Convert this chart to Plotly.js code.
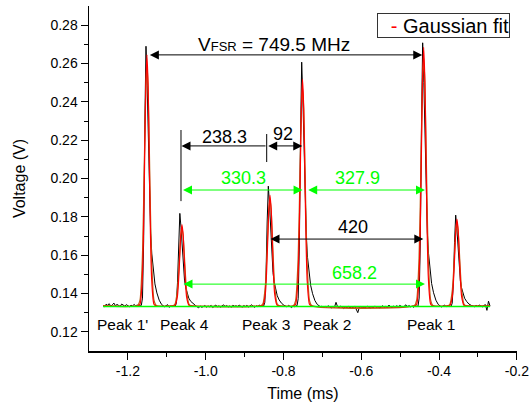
<!DOCTYPE html>
<html>
<head>
<meta charset="utf-8">
<script src="https://cdn.plot.ly/plotly-3.0.1.min.js"></script>
<style>
  html, body { margin: 0; padding: 0; background: #fff; }
  #chart { width: 529px; height: 408px; }
</style>
</head>
<body>
<div id="chart"></div>
<script>
// ---- Measured signal (black) ----
const timeMs = [
  // baseline before Peak 1'
  -1.264, -1.260, -1.256, -1.252, -1.248, -1.244, -1.240, -1.236, -1.232, -1.228,
  -1.224, -1.220, -1.216, -1.212, -1.208, -1.204, -1.200, -1.196, -1.192, -1.188,
  -1.184, -1.180, -1.176, -1.172, -1.168,
  // Peak 1'
  -1.1655, -1.1625, -1.1595, -1.1565, -1.1535, -1.1505, -1.1475, -1.1445, -1.1415, -1.1385,
  -1.1345, -1.1305, -1.1255, -1.1195, -1.1135,
  // baseline
  -1.110, -1.106, -1.102, -1.098, -1.094, -1.090, -1.086, -1.082,
  // Peak 4
  -1.0785, -1.0755, -1.0725, -1.0695, -1.0665, -1.0635, -1.0605, -1.0575, -1.0545, -1.0515,
  -1.0475, -1.0435, -1.0385, -1.0325, -1.0265,
  // baseline
  -1.022, -1.018, -1.014, -1.010, -1.006, -1.002, -0.998, -0.994, -0.990, -0.986,
  -0.982, -0.978, -0.974, -0.970, -0.966, -0.962, -0.958, -0.954, -0.950, -0.946,
  -0.942, -0.938, -0.934, -0.930, -0.926, -0.922, -0.918, -0.914, -0.910, -0.906,
  -0.902, -0.898, -0.894, -0.890, -0.886, -0.882, -0.878, -0.874, -0.870, -0.866,
  -0.862, -0.858, -0.854,
  // Peak 3
  -0.851, -0.848, -0.845, -0.842, -0.839, -0.836, -0.833, -0.830, -0.827, -0.824,
  -0.820, -0.816, -0.811, -0.805, -0.799,
  // baseline
  -0.795, -0.791, -0.787, -0.783, -0.779, -0.775, -0.771, -0.767,
  // Peak 2
  -0.7652, -0.7622, -0.7592, -0.7562, -0.7532, -0.7502, -0.7472, -0.7442, -0.7412, -0.7382,
  -0.7342, -0.7302, -0.7252, -0.7192, -0.7132,
  // baseline
  -0.709, -0.705, -0.701, -0.697, -0.693, -0.689, -0.685, -0.681, -0.677, -0.673,
  -0.669, -0.665, -0.661, -0.657, -0.653, -0.649, -0.645, -0.641, -0.637, -0.633,
  -0.629, -0.625, -0.621, -0.617, -0.613, -0.609, -0.605, -0.601, -0.597, -0.593,
  -0.589, -0.585, -0.581, -0.577, -0.573, -0.569, -0.565, -0.561, -0.557, -0.553,
  -0.549, -0.545, -0.541, -0.537, -0.533, -0.529, -0.525, -0.521, -0.517, -0.513,
  -0.509, -0.505, -0.501, -0.497, -0.493, -0.489, -0.485, -0.481, -0.477, -0.473,
  -0.469, -0.465, -0.461, -0.457,
  // Peak 1
  -0.4542, -0.4512, -0.4482, -0.4452, -0.4422, -0.4392, -0.4362, -0.4332, -0.4302, -0.4272,
  -0.4232, -0.4192, -0.4142, -0.4082, -0.4022,
  // baseline
  -0.398, -0.394, -0.390, -0.386, -0.382, -0.378, -0.374,
  // last small peak
  -0.3693, -0.3663, -0.3633, -0.3603, -0.3573, -0.3543, -0.3513, -0.3483, -0.3453, -0.3423,
  -0.3383, -0.3343, -0.3293, -0.3233, -0.3173,
  // baseline end
  -0.313, -0.309, -0.305, -0.301, -0.297, -0.293, -0.289, -0.285, -0.281, -0.277,
  -0.273, -0.269
];
const voltageV = [
  0.1336, 0.1331, 0.1344, 0.1339, 0.1347, 0.1333, 0.1341, 0.1350, 0.1336, 0.1343,
  0.1338, 0.1332, 0.1345, 0.1340, 0.1334, 0.1342, 0.1337, 0.1331, 0.1339, 0.1335,
  0.1343, 0.1336, 0.1340, 0.1333, 0.1338,
  0.1338, 0.1376, 0.1674, 0.2284, 0.2690, 0.2487, 0.2175, 0.1904, 0.1714, 0.1606,
  0.1511, 0.1450, 0.1403, 0.1365, 0.1343,
  0.1338, 0.1331, 0.1336, 0.1342, 0.1328, 0.1335, 0.1332, 0.1337,
  0.1333, 0.1349, 0.1456, 0.1673, 0.1818, 0.1746, 0.1634, 0.1538, 0.1470, 0.1432,
  0.1398, 0.1376, 0.1359, 0.1346, 0.1338,
  0.1330, 0.1326, 0.1334, 0.1328, 0.1332, 0.1337, 0.1329, 0.1335, 0.1331, 0.1338,
  0.1327, 0.1333, 0.1340, 0.1330, 0.1336, 0.1329, 0.1334, 0.1341, 0.1332, 0.1337,
  0.1330, 0.1335, 0.1328, 0.1339, 0.1333, 0.1336, 0.1331, 0.1340, 0.1334, 0.1329,
  0.1337, 0.1332, 0.1338, 0.1330, 0.1335, 0.1341, 0.1333, 0.1328, 0.1336, 0.1332,
  0.1339, 0.1331, 0.1335,
  0.1334, 0.1354, 0.1491, 0.1773, 0.1960, 0.1866, 0.1723, 0.1598, 0.1510, 0.1460,
  0.1416, 0.1388, 0.1366, 0.1349, 0.1339,
  0.1336, 0.1330, 0.1338, 0.1332, 0.1327, 0.1335, 0.1331, 0.1337,
  0.1336, 0.1373, 0.1653, 0.2225, 0.2607, 0.2416, 0.2124, 0.1869, 0.1691, 0.1589,
  0.1500, 0.1443, 0.1399, 0.1363, 0.1343,
  0.1338, 0.1331, 0.1334, 0.1327, 0.1333, 0.1329, 0.1336, 0.1330, 0.1325, 0.1332,
  0.1328, 0.1354, 0.1331, 0.1326, 0.1334, 0.1329, 0.1322, 0.1330, 0.1327, 0.1333,
  0.1324, 0.1331, 0.1326, 0.1335, 0.1318, 0.1300, 0.1328, 0.1332, 0.1325, 0.1330,
  0.1327, 0.1334, 0.1329, 0.1323, 0.1331, 0.1326, 0.1335, 0.1328, 0.1332, 0.1324,
  0.1330, 0.1336, 0.1329, 0.1333, 0.1327, 0.1340, 0.1331, 0.1326, 0.1334, 0.1329,
  0.1336, 0.1331, 0.1338, 0.1333, 0.1328, 0.1335, 0.1341, 0.1332, 0.1337, 0.1330,
  0.1334, 0.1328, 0.1339, 0.1332,
  0.1334, 0.1376, 0.1678, 0.2296, 0.2708, 0.2502, 0.2186, 0.1912, 0.1719, 0.1610,
  0.1513, 0.1452, 0.1404, 0.1365, 0.1343,
  0.1336, 0.1330, 0.1334, 0.1339, 0.1331, 0.1335, 0.1332,
  0.1333, 0.1349, 0.1454, 0.1667, 0.1809, 0.1738, 0.1629, 0.1534, 0.1468, 0.1430,
  0.1397, 0.1375, 0.1359, 0.1345, 0.1338,
  0.1335, 0.1331, 0.1338, 0.1333, 0.1340, 0.1336, 0.1330, 0.1337, 0.1342, 0.1312,
  0.1360, 0.1334
];

// ---- Gaussian fit (red) and cumulative fit (brown) ----
const fitTimeMs = [
  -1.264,
  -1.175, -1.169, -1.163, -1.160, -1.157, -1.154, -1.151, -1.148, -1.145, -1.142, -1.139, -1.133, -1.127,
  -1.085, -1.079, -1.073, -1.070, -1.067, -1.064, -1.061, -1.058, -1.055, -1.052, -1.049, -1.043, -1.037,
  -0.8587, -0.8527, -0.8467, -0.8437, -0.8407, -0.8377, -0.8347, -0.8317, -0.8287, -0.8257, -0.8227, -0.8167, -0.8107,
  -0.775, -0.769, -0.763, -0.760, -0.757, -0.754, -0.751, -0.748, -0.745, -0.742, -0.739, -0.733, -0.727,
  -0.4636, -0.4576, -0.4516, -0.4486, -0.4456, -0.4426, -0.4396, -0.4366, -0.4336, -0.4306, -0.4276, -0.4216, -0.4156,
  -0.378, -0.372, -0.366, -0.363, -0.360, -0.357, -0.354, -0.351, -0.348, -0.345, -0.342, -0.336, -0.330,
  -0.269
];
const gaussianFitV = [
  0.1335,
  0.1335, 0.1344, 0.1478, 0.1711, 0.2088, 0.2476, 0.2645, 0.2476, 0.2088, 0.1711, 0.1478, 0.1344, 0.1335,
  0.1335, 0.1338, 0.1381, 0.1457, 0.1579, 0.1705, 0.1760, 0.1705, 0.1579, 0.1457, 0.1381, 0.1338, 0.1335,
  0.1335, 0.1339, 0.1398, 0.1501, 0.1668, 0.1839, 0.1914, 0.1839, 0.1668, 0.1501, 0.1398, 0.1339, 0.1335,
  0.1335, 0.1343, 0.1464, 0.1675, 0.2015, 0.2365, 0.2518, 0.2365, 0.2015, 0.1675, 0.1464, 0.1343, 0.1335,
  0.1335, 0.1344, 0.1482, 0.1722, 0.2111, 0.2510, 0.2684, 0.2510, 0.2111, 0.1722, 0.1482, 0.1344, 0.1335,
  0.1335, 0.1338, 0.1384, 0.1465, 0.1595, 0.1730, 0.1788, 0.1730, 0.1595, 0.1465, 0.1384, 0.1338, 0.1335,
  0.1335
];
const cumulativeFitV = [
  0.1335,
  0.1337, 0.1365, 0.1575, 0.1832, 0.2168, 0.2470, 0.2593, 0.2470, 0.2168, 0.1832, 0.1575, 0.1365, 0.1337,
  0.1336, 0.1345, 0.1413, 0.1496, 0.1605, 0.1703, 0.1743, 0.1703, 0.1605, 0.1496, 0.1413, 0.1345, 0.1336,
  0.1336, 0.1348, 0.1441, 0.1555, 0.1703, 0.1837, 0.1891, 0.1837, 0.1703, 0.1555, 0.1441, 0.1348, 0.1336,
  0.1336, 0.1362, 0.1552, 0.1784, 0.2087, 0.2360, 0.2471, 0.2360, 0.2087, 0.1784, 0.1552, 0.1362, 0.1336,
  0.1337, 0.1366, 0.1582, 0.1847, 0.2192, 0.2503, 0.2630, 0.2503, 0.2192, 0.1847, 0.1582, 0.1366, 0.1337,
  0.1336, 0.1345, 0.1418, 0.1507, 0.1623, 0.1727, 0.1770, 0.1727, 0.1623, 0.1507, 0.1418, 0.1345, 0.1336,
  0.1335
];

// ---- Fit baseline (green) ----
const baselineTimeMs = [-1.264, -0.269];
const baselineV = [0.1332, 0.1332];

// ---- Axis tick labels ----
const xTickVals = [-1.2, -1.0, -0.8, -0.6, -0.4, -0.2];
const xTickText = ['-1.2', '-1.0', '-0.8', '-0.6', '-0.4', '-0.2'];
const xMinorVals = [-1.1, -0.9, -0.7, -0.5, -0.3];
const xTopVals = [-1.2, -1.1, -1.0, -0.9, -0.8, -0.7, -0.6, -0.5, -0.4, -0.3];
const yTickVals = [0.12, 0.14, 0.16, 0.18, 0.20, 0.22, 0.24, 0.26, 0.28];
const yTickText = ['0.12', '0.14', '0.16', '0.18', '0.20', '0.22', '0.24', '0.26', '0.28'];
const yMinorVals = [0.13, 0.15, 0.17, 0.19, 0.21, 0.23, 0.25, 0.27];
const yRightVals = [0.12, 0.13, 0.14, 0.15, 0.16, 0.17, 0.18, 0.19, 0.20, 0.21, 0.22, 0.23, 0.24, 0.25, 0.26, 0.27, 0.28];

// ---- Peak labels ----
const peakNames = ["Peak 1'", 'Peak 4', 'Peak 3', 'Peak 2', 'Peak 1'];
const peakLabelX = [-1.2131, -1.0553, -0.8455, -0.6890, -0.4216];

const FONT = '"Liberation Sans", Arial, sans-serif';
const GREEN = '#00ff00';

const traces = [
  { x: timeMs, y: voltageV, type: 'scatter', mode: 'lines',
    line: { color: '#000000', width: 1 }, name: 'Data', showlegend: false },
  { x: fitTimeMs, y: cumulativeFitV, type: 'scatter', mode: 'lines',
    line: { color: '#b8661c', width: 1.2, shape: 'spline', smoothing: 0.6 }, name: 'Cumulative fit', showlegend: false },
  { x: fitTimeMs, y: gaussianFitV, type: 'scatter', mode: 'lines',
    line: { color: '#ff0000', width: 1.2, shape: 'spline', smoothing: 0.6 }, name: 'Gaussian fit', showlegend: false },
  { x: baselineTimeMs, y: baselineV, type: 'scatter', mode: 'lines',
    line: { color: GREEN, width: 1.4 }, name: 'Baseline', showlegend: false }
];

function arrow(x0, x1, y, color, both, headAtStart) {
  return {
    x: headAtStart ? x0 : x1, y: y, ax: headAtStart ? x1 : x0, ay: y,
    xref: 'x', yref: 'y', axref: 'x', ayref: 'y',
    text: '', showarrow: true, arrowcolor: color, arrowwidth: 1,
    arrowhead: 2, arrowsize: 1.8, startarrowhead: 2, startarrowsize: 1.8,
    arrowside: both ? 'end+start' : 'end'
  };
}
function label(txt, x, y, size, color) {
  return { x: x, y: y, xref: 'x', yref: 'y', text: txt, showarrow: false,
    xanchor: 'center', yanchor: 'middle', font: { family: FONT, size: size, color: color } };
}

const annotations = [
  arrow(-1.1473, -0.4432, 0.2645, '#000000', true, false),
  arrow(-1.0622, -0.8424, 0.2170, '#000000', false, true),
  arrow(-0.8432, -0.7517, 0.2170, '#000000', true, false),
  arrow(-1.0622, -0.7509, 0.1940, GREEN, true, false),
  arrow(-0.7404, -0.4363, 0.1940, GREEN, true, false),
  arrow(-0.8373, -0.4406, 0.1684, '#000000', true, false),
  arrow(-1.0609, -0.4363, 0.1449, GREEN, true, false),
  label('V<span style="font-size:13px">FSR</span> = 749.5 MHz', -0.8257, 0.2697, 19, '#000000'),
  label('238.3', -0.9517, 0.2215, 18, '#000000'),
  label('92', -0.8005, 0.2233, 18, '#000000'),
  label('330.3', -0.9028, 0.2003, 18, GREEN),
  label('327.9', -0.6085, 0.2003, 18, GREEN),
  label('420', -0.6206, 0.1745, 18, '#000000'),
  label('658.2', -0.6175, 0.1506, 18, GREEN),
  { x: 0.9836, y: 0.9797, xref: 'paper', yref: 'paper', xanchor: 'right', yanchor: 'top',
    text: '<span style="color:#ff0000">-</span> Gaussian fit', showarrow: false,
    width: 131, height: 23, align: 'right', borderpad: 0, bordercolor: '#333333', borderwidth: 1,
    bgcolor: '#ffffff', font: { family: FONT, size: 20, color: '#000000' } }
];
peakNames.forEach(function (n, i) {
  annotations.push(label(n, peakLabelX[i], 0.1240, 15.5, '#000000'));
});

const shapes = [
  { type: 'line', xref: 'x', yref: 'y', x0: -1.0635, x1: -1.0635, y0: 0.2253, y1: 0.1882,
    line: { color: '#000000', width: 1 } },
  { type: 'line', xref: 'x', yref: 'y', x0: -0.8432, x1: -0.8432, y0: 0.2232, y1: 0.2086,
    line: { color: '#000000', width: 1 } }
];

const axisCommon = {
  showgrid: false, zeroline: false, showline: true, linecolor: '#000000', linewidth: 1.5,
  tickcolor: '#000000', tickwidth: 1
};
const X_RANGE = [-1.3, -0.1997];
const Y_RANGE = [0.11, 0.29];

const layout = {
  width: 529, height: 408,
  margin: { l: 89, r: 12, t: 6, b: 57, pad: 0 },
  paper_bgcolor: '#ffffff', plot_bgcolor: '#ffffff',
  font: { family: FONT, color: '#000000' },
  showlegend: false,
  xaxis: Object.assign({}, axisCommon, {
    range: X_RANGE, tickmode: 'array', tickvals: xTickVals, ticktext: xTickText,
    ticks: 'outside', ticklen: 7, tickfont: { family: FONT, size: 14, color: '#000000' },
    ticklabeloverflow: 'allow',
    minor: { tickmode: 'array', tickvals: xMinorVals, ticks: 'outside', ticklen: 4, tickcolor: '#000000', tickwidth: 1 },
    title: { text: 'Time (ms)', font: { family: FONT, size: 16, color: '#000000' }, standoff: 9 },
    automargin: false
  }),
  yaxis: Object.assign({}, axisCommon, {
    range: Y_RANGE, tickmode: 'array', tickvals: yTickVals, ticktext: yTickText,
    ticks: 'outside', ticklen: 7, tickfont: { family: FONT, size: 14, color: '#000000' },
    minor: { tickmode: 'array', tickvals: yMinorVals, ticks: 'outside', ticklen: 4, tickcolor: '#000000', tickwidth: 1 },
    title: { text: 'Voltage (V)', font: { family: FONT, size: 16, color: '#000000' }, standoff: 21 },
    automargin: false
  }),
  xaxis2: Object.assign({}, axisCommon, {
    overlaying: 'x', side: 'top', anchor: 'y', range: X_RANGE,
    tickmode: 'array', tickvals: xTopVals, ticks: 'inside', ticklen: 6, showticklabels: false
  }),
  yaxis2: Object.assign({}, axisCommon, {
    overlaying: 'y', side: 'right', anchor: 'x', range: Y_RANGE,
    tickmode: 'array', tickvals: yRightVals, ticks: 'inside', ticklen: 6, showticklabels: false
  }),
  annotations: annotations,
  shapes: shapes
};

Plotly.newPlot('chart', traces, layout, { staticPlot: true, displayModeBar: false });
</script>
</body>
</html>
